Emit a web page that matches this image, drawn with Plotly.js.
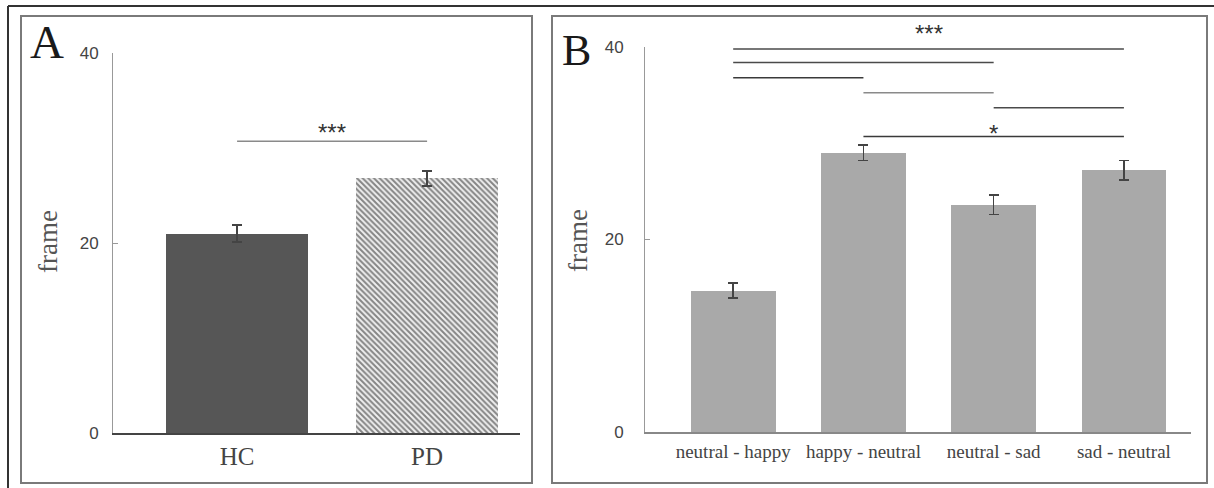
<!DOCTYPE html>
<html>
<head>
<meta charset="utf-8">
<script src="https://cdn.plot.ly/plotly-3.0.1.min.js"></script>
<style>html,body{margin:0;padding:0;background:#fff;}#chart{width:1214px;height:488px;}</style>
</head>
<body>
<div id="chart"></div>
<script>
// Panel A data
const groupCats = ["HC", "PD"];
const groupMeans = [21.0, 26.8];
const groupErrs = [0.9, 0.8];
const groupSigFrom = [0];
const groupSigTo = [1];
const groupSigLevel = [30.7];

// Panel B data
const condCats = ["neutral - happy", "happy - neutral", "neutral - sad", "sad - neutral"];
const condMeans = [14.7, 29.0, 23.6, 27.2];
const condErrs = [0.8, 0.8, 1.0, 1.0];
const condSigFrom = [0, 0, 0, 1, 2, 1];
const condSigTo = [3, 2, 1, 2, 3, 3];
const condSigLevel = [39.8, 38.4, 36.8, 35.25, 33.7, 30.7];
const condSigColor = ["#4a4a4a", "#4a4a4a", "#3a3a3a", "#8a8a8a", "#4a4a4a", "#3a3a3a"];

const yTicks = [0, 20, 40];

const W = 1214, H = 488;
const px = x => x / W;
const py = y => 1 - y / H;

const errStyle = {type: "data", visible: true, color: "#444", thickness: 1.5, width: 5};

const traces = [
  {
    type: "bar", x: [0], y: [groupMeans[0]], xaxis: "x", yaxis: "y",
    width: 0.75,
    marker: {color: "#565656", line: {width: 0}},
    error_y: Object.assign({array: [groupErrs[0]]}, errStyle),
    hoverinfo: "none", showlegend: false
  },
  {
    type: "bar", x: [1], y: [groupMeans[1]], xaxis: "x", yaxis: "y",
    width: 0.75,
    marker: {
      color: "#f0f0f0",
      pattern: {shape: "\\", fgcolor: "#858585", bgcolor: "#f0f0f0", size: 4, solidity: 0.5},
      line: {width: 0}
    },
    error_y: Object.assign({array: [groupErrs[1]]}, errStyle),
    hoverinfo: "none", showlegend: false
  },
  {
    type: "bar", x: [0, 1, 2, 3], y: condMeans, xaxis: "x2", yaxis: "y2",
    width: 0.65,
    marker: {color: "#a9a9a9", line: {width: 0}},
    error_y: Object.assign({array: condErrs}, errStyle),
    hoverinfo: "none", showlegend: false
  }
];

const shapes = [];
// outer frame lines
shapes.push({type: "line", xref: "paper", yref: "paper", x0: px(8), x1: 1, y0: py(6), y1: py(6), line: {color: "#333", width: 2}});
shapes.push({type: "line", xref: "paper", yref: "paper", x0: px(8), x1: px(8), y0: py(6), y1: 0, line: {color: "#333", width: 2}});
// panel boxes
shapes.push({type: "rect", xref: "paper", yref: "paper", x0: px(21), x1: px(532), y0: py(483), y1: py(16), line: {color: "#7a7a7a", width: 2}});
shapes.push({type: "rect", xref: "paper", yref: "paper", x0: px(552), x1: px(1207), y0: py(483), y1: py(16), line: {color: "#7a7a7a", width: 2}});

groupSigFrom.forEach((f, i) => {
  shapes.push({type: "line", xref: "x", yref: "y", x0: f, x1: groupSigTo[i], y0: groupSigLevel[i], y1: groupSigLevel[i], line: {color: "#8a8a8a", width: 1.5}});
});
condSigFrom.forEach((f, i) => {
  shapes.push({type: "line", xref: "x2", yref: "y2", x0: f, x1: condSigTo[i], y0: condSigLevel[i], y1: condSigLevel[i], line: {color: condSigColor[i], width: 1.5}});
});

const serif = "Liberation Serif, Times New Roman, serif";
const sans = "Liberation Sans, Arial, sans-serif";

function ann(o) {
  return Object.assign({showarrow: false, xanchor: "center", yanchor: "middle"}, o);
}

const annotations = [
  ann({text: "A", xref: "paper", yref: "paper", x: px(47), y: py(42), font: {family: serif, size: 47, color: "#1a1a1a"}}),
  ann({text: "B", xref: "paper", yref: "paper", x: px(576), y: py(50), font: {family: serif, size: 44, color: "#1a1a1a"}}),
  ann({text: "frame", xref: "paper", yref: "paper", x: px(48), y: py(241), textangle: -90, font: {family: serif, size: 27, color: "#555"}}),
  ann({text: "frame", xref: "paper", yref: "paper", x: px(578), y: py(241), textangle: -90, font: {family: serif, size: 27, color: "#555"}}),
  ann({text: "***", xref: "x", yref: "y", x: 0.5, y: 31.6, font: {family: sans, size: 24, color: "#333"}}),
  ann({text: "***", xref: "x2", yref: "paper", x: 1.5, y: py(33), font: {family: sans, size: 24, color: "#333"}}),
  ann({text: "*", xref: "x2", yref: "y2", x: 2, y: 31.0, font: {family: sans, size: 24, color: "#333"}})
];

const yaxisCommon = {
  range: [0, 40], tickvals: yTicks, ticktext: yTicks.map(String),
  showgrid: false, zeroline: false, showline: true, linecolor: "#999", linewidth: 1,
  ticks: "inside", ticklen: 5, tickcolor: "#999",
  tickfont: {family: sans, size: 17, color: "#444"}, fixedrange: true
};

const layout = {
  width: W, height: H,
  margin: {l: 0, r: 0, t: 0, b: 0},
  paper_bgcolor: "#fff", plot_bgcolor: "#fff",
  showlegend: false,
  bargap: 0,
  barmode: "overlay",
  xaxis: {
    domain: [px(113), px(520)], anchor: "y",
    range: [-0.653, 1.489], tickvals: [0, 1], ticktext: groupCats,
    showgrid: false, zeroline: false, showline: true, linecolor: "#444", linewidth: 1.5,
    ticks: "", tickfont: {family: serif, size: 25, color: "#444"}, fixedrange: true
  },
  yaxis: Object.assign({}, yaxisCommon, {domain: [py(433), py(53)], anchor: "x", ticklabelstandoff: 10}),
  xaxis2: {
    domain: [px(645), px(1191)], anchor: "y2",
    range: [-0.677, 3.515], tickvals: [0, 1, 2, 3], ticktext: condCats,
    showgrid: false, zeroline: false, showline: true, linecolor: "#888", linewidth: 1.5,
    ticks: "", tickfont: {family: serif, size: 19, color: "#444"}, fixedrange: true,
    ticklabelstandoff: 2
  },
  yaxis2: Object.assign({}, yaxisCommon, {domain: [py(432), py(47)], anchor: "x2", ticklabelstandoff: 17}),
  shapes: shapes,
  annotations: annotations
};

Plotly.newPlot("chart", traces, layout, {displayModeBar: false, staticPlot: true});
</script>
</body>
</html>
